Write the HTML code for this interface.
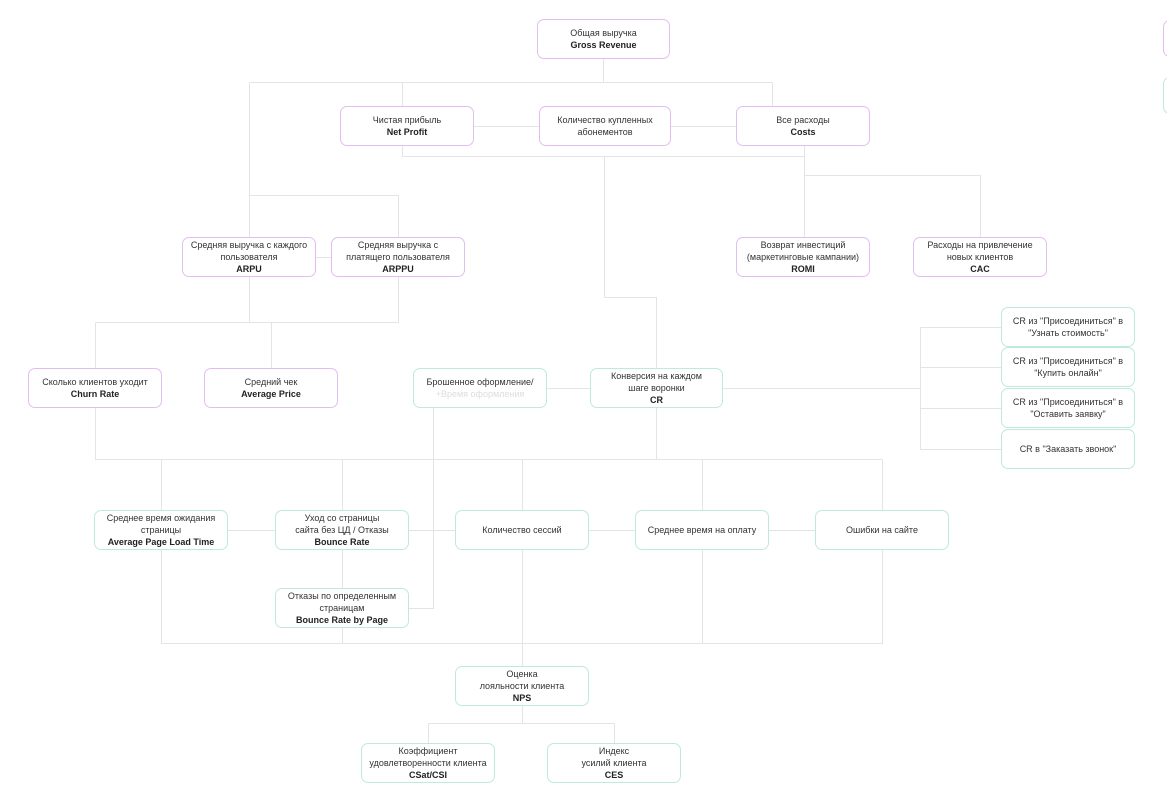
<!DOCTYPE html>
<html><head><meta charset="utf-8"><style>
body{margin:0;width:1167px;height:801px;background:#fff;position:relative;overflow:hidden;font-family:"Liberation Sans","DejaVu Sans",sans-serif;}
.b{position:absolute;box-sizing:border-box;width:134px;height:40px;border:1px solid #e3bdf0;border-radius:7px;background:#fff;display:flex;align-items:center;justify-content:center;text-align:center;font-size:9px;line-height:12px;color:#333;}
.b>div{width:100%;}
.g{border-color:#bfeadb;}
.b b{font-weight:bold;color:#222}
svg{position:absolute;left:0;top:0}
</style></head><body>
<svg width="1167" height="801" stroke="#e4e4e4" stroke-width="1" fill="none">
<path d="M603.5 59V82.5M249.5 82.5H772.5M402.5 82.5V106M772.5 82.5V106"/>
<path d="M249.5 82.5V237M249.5 195.5H398.5V237"/>
<path d="M474 126.5H539M671 126.5H736"/>
<path d="M402.5 146V156.5H804.5M804.5 146V237M804.5 175.5H980.5V237M604.5 156.5V297.5H656.5V368"/>
<path d="M316 257.5H331"/>
<path d="M249.5 277V322.5M95.5 322.5H398.5V277M95.5 322.5V368M271.5 322.5V368"/>
<path d="M95.5 408V459.5H882.5M161.5 459.5V510M342.5 459.5V510M522.5 459.5V510M702.5 459.5V510M882.5 459.5V510M656.5 408V459.5"/>
<path d="M228 530.5H275M409 530.5H455M589 530.5H635M769 530.5H815"/>
<path d="M161.5 550V643.5H882.5V550M342.5 550V588M342.5 628V643.5M522.5 550V666M702.5 550V643.5"/>
<path d="M547 388.5H590M433.5 408V608.5H409"/>
<path d="M723 388.5H920.5M920.5 327.5V449.5M920.5 327.5H1001M920.5 367.5H1001M920.5 408.5H1001M920.5 449.5H1001"/>
<path d="M522.5 706V723.5M428.5 723.5H614.5M428.5 723.5V743M614.5 723.5V743"/>
</svg>
<div class="b" style="left:537px;top:19px;width:133px"><div>Общая выручка<br><b>Gross Revenue</b></div></div>
<div class="b" style="left:340px;top:106px"><div>Чистая прибыль<br><b>Net Profit</b></div></div>
<div class="b" style="left:539px;top:106px;width:132px"><div>Количество купленных<br>абонементов</div></div>
<div class="b" style="left:736px;top:106px"><div>Все расходы<br><b>Costs</b></div></div>
<div class="b" style="left:182px;top:237px"><div>Средняя выручка с каждого<br>пользователя<br><b>ARPU</b></div></div>
<div class="b" style="left:331px;top:237px"><div>Средняя выручка с<br>платящего пользователя<br><b>ARPPU</b></div></div>
<div class="b" style="left:736px;top:237px"><div>Возврат инвестиций<br>(маркетинговые кампании)<br><b>ROMI</b></div></div>
<div class="b" style="left:913px;top:237px"><div>Расходы на привлечение<br>новых клиентов<br><b>CAC</b></div></div>
<div class="b" style="left:28px;top:368px"><div>Сколько клиентов уходит<br><b>Churn Rate</b></div></div>
<div class="b" style="left:204px;top:368px"><div>Средний чек<br><b>Average Price</b></div></div>
<div class="b g" style="left:413px;top:368px"><div>Брошенное оформление/<br><span style="color:#ddd">+Время оформления</span></div></div>
<div class="b g" style="left:590px;top:368px;width:133px"><div>Конверсия на каждом<br>шаге воронки<br><b>CR</b></div></div>
<div class="b g" style="left:1001px;top:307px"><div>CR из "Присоединиться" в<br>"Узнать стоимость"</div></div>
<div class="b g" style="left:1001px;top:347px"><div>CR из "Присоединиться" в<br>"Купить онлайн"</div></div>
<div class="b g" style="left:1001px;top:388px"><div>CR из "Присоединиться" в<br>"Оставить заявку"</div></div>
<div class="b g" style="left:1001px;top:429px"><div>CR в "Заказать звонок"</div></div>
<div class="b g" style="left:94px;top:510px"><div>Среднее время ожидания<br>страницы<br><b>Average Page Load Time</b></div></div>
<div class="b g" style="left:275px;top:510px"><div>Уход со страницы<br>сайта без ЦД / Отказы<br><b>Bounce Rate</b></div></div>
<div class="b g" style="left:455px;top:510px"><div>Количество сессий</div></div>
<div class="b g" style="left:635px;top:510px"><div>Среднее время на оплату</div></div>
<div class="b g" style="left:815px;top:510px"><div>Ошибки на сайте</div></div>
<div class="b g" style="left:275px;top:588px"><div>Отказы по определенным<br>страницам<br><b>Bounce Rate by Page</b></div></div>
<div class="b g" style="left:455px;top:666px"><div>Оценка<br>лояльности клиента<br><b>NPS</b></div></div>
<div class="b g" style="left:361px;top:743px"><div>Коэффициент<br>удовлетворенности клиента<br><b>CSat/CSI</b></div></div>
<div class="b g" style="left:547px;top:743px"><div>Индекс<br>усилий клиента<br><b>CES</b></div></div>
<div class="b" style="left:1163px;top:20px;height:37px"></div>
<div class="b g" style="left:1163px;top:77px;height:37px"></div>
</body></html>
